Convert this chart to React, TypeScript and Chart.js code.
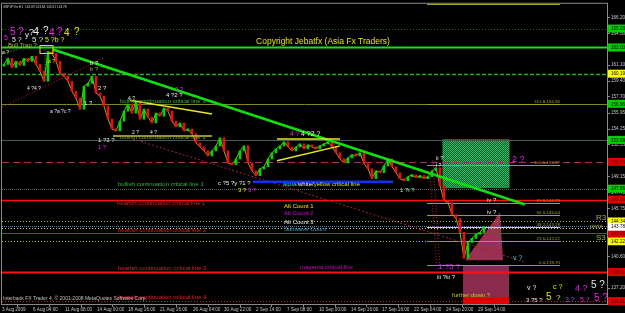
import React, { useEffect, useRef } from "react";
import { Chart, registerables } from "chart.js";
Chart.register(...registerables);

const FONT = '"Liberation Sans", Arial, sans-serif';

// ---- price data (H1 closes, resampled) ----
const firstOpen = 161.0;
const closes = [
  161.19, 161.83, 160.87, 161.51, 161.08, 161.83, 161.51, 162.04, 161.19, 160.44,
  159.38, 162.57, 162.36, 161.51, 160.23, 159.91, 159.38, 158.31, 157.56, 156.39,
  158.84, 159.16, 159.91, 158.1, 157.78, 156.71, 155.32, 154.26, 154.05, 155.11,
  156.18, 156.92, 155.96, 157.24, 155.32, 156.39, 155.54, 154.9, 155.96, 155.64,
  156.5, 156.18, 155.11, 154.47, 154.9, 154.05, 154.26, 153.73, 152.77, 152.34,
  151.91, 151.38, 151.91, 152.45, 153.3, 151.91, 150.63, 150.42, 151.06, 151.91,
  152.45, 150.63, 149.78, 149.25, 149.99, 150.21, 151.06, 151.7, 152.13, 152.45,
  152.87, 152.34, 151.91, 152.34, 152.66, 152.13, 152.55, 152.34, 152.13, 152.45,
  152.66, 152.87, 152.34, 151.7, 151.06, 150.63, 151.17, 151.49, 151.38, 151.7,
  150.53, 149.99, 148.93, 149.78, 149.57, 150.31, 151.06, 150.21, 149.57, 148.93,
  148.71, 149.14, 149.35, 149.03, 149.25, 148.93, 149.14, 149.78, 150.1, 148.18,
  146.58, 146.37, 145.09, 144.66, 143.17, 140.4, 142.1, 142.53, 142.96, 143.17,
  143.78,
];

// ---- axes ----
const xTickIdx = [-0.5, 7.25, 15.25, 23.25, 31, 39, 47.25, 55, 63, 70.75, 78.75, 86.75, 94.5, 102.5, 110.5, 118.5];
const xTickLabels = [
  "3 Aug 2009", "6 Aug 04:00", "11 Aug 08:00", "14 Aug 00:00", "18 Aug 16:00", "21 Aug 16:00",
  "26 Aug 04:00", "30 Aug 22:00", "2 Sep 14:00", "7 Sep 08:00", "10 Sep 00:00", "14 Sep 16:00",
  "17 Sep 16:00", "22 Sep 04:00", "24 Sep 20:00", "29 Sep 14:00",
];
const yTickValues = [166.2, 164.5, 162.8, 161.1, 159.4, 157.7, 155.95, 154.25, 152.55, 150.85, 149.15, 147.45, 145.75, 144.05, 142.35, 140.6, 138.9, 137.2];

// ---- fibonacci levels ----
const fibPct = ["261.8", "161.8", "100.0", "61.8", "50.0", "38.2", "23.6", "0.0"];
const fibLevels = [167.63, 156.96, 150.37, 146.29, 145.04, 143.78, 142.22, 139.7];
const fibRange = [105.75, 139];

// ---- horizontal levels ----
const levelValues = [165.03, 163.0, 160.19, 156.96, 153.09, 150.74, 147.86, 146.69, 144.34, 143.81, 143.68, 143.06, 142.21, 138.91, 135.81];
const levelStyles = [
  { c: "#1f6a1f", d: [1, 2], w: 1 },
  { c: "#18e018", d: [], w: 2 },
  { c: "#28b028", d: [4, 2], w: 1.5 },
  { c: "#7a8a20", d: [], w: 1 },
  { c: "#3e5e5e", d: [], w: 1.2 },
  { c: "#a8305a", d: [7, 4], w: 1 },
  { c: "#4f6f4f", d: [1, 1], w: 1 },
  { c: "#ff1010", d: [], w: 1.5 },
  { c: "#b8b820", d: [1, 2], w: 1 },
  { c: "#4a7ea8", d: [1, 1], w: 1 },
  { c: "#c8c890", d: [1, 2], w: 1 },
  { c: "#c02040", d: [], w: 1 },
  { c: "#b0b020", d: [1, 2], w: 1 },
  { c: "#ff1010", d: [], w: 2 },
  { c: "#d02020", d: [1, 2], w: 1 },
];

// ---- price boxes on the axis ----
const boxValues = [165.03, 163.0, 160.19, 156.96, 153.09, 150.74, 147.86, 146.69, 144.34, 142.22, 143.06, 143.78, 138.91, 135.81];
const boxColors = ["#00d000", "#00d000", "#ffff00", "#00d000", "#00d000", "#e00000", "#00d000", "#e00000", "#ffff00", "#ffff00", "#e00000", "#ffffff", "#e00000", "#e00000"];

// ---- trend lines: [i1, v1, i2, v2] ----
const trendLines = [
  [12.25, 162.79, 130.25, 146.16],
  [-0.5, 156.6, 24.75, 161.83],
  [32.25, 153.19, 130.25, 139.97],
  [31.5, 157.35, 52, 155.86],
  [27.25, 153.51, 52, 153.51],
  [68.25, 153.19, 84, 153.19],
  [68.25, 150.85, 84, 152.45],
  [62.25, 148.61, 97.25, 148.61],
  [-0.5, 162.3, 4, 162.89],
  [10.25, 162.79, 10.25, 159.38],
  [107.25, 150.9, 109, 139.4],
  [106.5, 149.6, 108.25, 139.3],
];
const trendStyles = [
  { c: "#10e010", d: [], w: 2.5 },
  { c: "#c02040", d: [1, 2], w: 1 },
  { c: "#a82040", d: [2, 2], w: 1 },
  { c: "#e8e820", d: [], w: 1.5 },
  { c: "#c8c820", d: [], w: 1.5 },
  { c: "#e8e820", d: [], w: 1.5 },
  { c: "#e8e820", d: [], w: 1.5 },
  { c: "#1030ff", d: [], w: 2.5 },
  { c: "#30c030", d: [1, 2], w: 1 },
  { c: "#30c030", d: [1, 2], w: 1 },
  { c: "#c02040", d: [1, 2], w: 1 },
  { c: "#c02040", d: [1, 2], w: 1 },
];

// ---- zones: [i1, v1, i2, v2] ----
const zoneGreen = [109.75, 153.09, 126.25, 147.97];
const zonePink = [114.75, 139.65, 126.25, 136.24];
const zoneRed = [114.75, 136.24, 126.25, 135.3];
const trapBox = [9, 163.21, 12.25, 162.36];
const triangle = [[115.25, 140.18], [124, 145.3], [124.75, 140.18]];

// ---- text annotations: [text, idx, price, colour, size, align] ----
const W = "#e8e8e8", M = "#f020f0", Y = "#e6e600", O = "#b0b040", G = "#3cb043", R = "#e02020";
const notes: [string, number, number, string, number, string?][] = [
  ["GBPJPYm,H1  143.69 143.84 143.61 143.78", -0.25, 167.37, "#d0d0d0", 3.2],
  ["Copyright Jebatfx (Asia Fx Traders)", 79.75, 163.64, "#e6e600", 8.5, "center"],
  ["5", 0, 163.96, M, 7], ["5", 1.5, 164.6, M, 10], ["?", 3.5, 164.6, M, 10],
  ["y", 5.25, 164.39, W, 8], ["?", 6.25, 164.6, W, 9], ["4", 7.25, 164.71, W, 11], ["?", 9.75, 164.71, W, 10],
  ["4", 11.25, 164.49, M, 10], ["?", 13.25, 164.6, M, 10], ["4", 15, 164.49, Y, 10], ["?", 17.5, 164.6, Y, 10],
  ["5 ?", 2, 163.85, W, 7], ["5 ?", 7, 163.85, W, 8], ["5 ?b ?", 10.25, 163.75, Y, 7],
  ["Bull Trap ?", 1, 163.21, O, 6], ["a ?", -0.5, 162.47, W, 5],
  ["a ?", 11, 161.51, Y, 5], ["b ?", 21.5, 161.3, W, 6], ["b ?", 21.5, 160.66, O, 6],
  ["4 ?4 ?", 5.75, 158.63, W, 5], ["2 ?", 23.5, 158.63, W, 6], ["1 ?", 20, 157.03, W, 6],
  ["a ?a ?c ?", 11.5, 156.07, W, 5], ["4 ?", 31, 157.56, W, 5], ["4 ?2 ?", 40.5, 157.88, W, 6],
  ["2 ?", 42.75, 158.52, M, 6], ["2 ?", 32, 153.83, W, 5], ["4 ?", 36.5, 153.83, W, 5],
  ["1 ?3 ?", 23.5, 153.09, W, 6], ["1 ?", 23.5, 152.34, M, 6],
  ["4 ?", 71.5, 153.73, M, 7], ["4 ?2 ?", 74.25, 153.73, W, 7],
  ["c ?5 ?y ?1 ?", 53.5, 148.39, W, 6], ["3 ?", 58.5, 147.65, Y, 6], ["3 ?", 61, 147.65, M, 6],
  ["1 ?i ?", 99, 147.65, "#a0e0c0", 6], ["ii ?", 108, 151.06, W, 6], ["i ?", 108, 150.31, W, 5],
  ["2 ?", 127, 150.95, M, 9], ["iv ?", 120.75, 146.58, W, 6], ["iv ?", 120.75, 145.3, W, 6],
  ["v ?", 127.25, 140.4, "#40c8c8", 7], ["1 ?5 ?", 108.5, 139.44, M, 8], ["iii ?iii ?", 108.25, 138.37, W, 6],
  ["further down ?", 112, 136.45, "#c8c820", 6],
  ["v ?", 130.75, 137.2, W, 7], ["c ?", 137.25, 137.31, Y, 7], ["4 ?", 142.75, 137.2, M, 9], ["5 ?", 146.75, 137.52, W, 10],
  ["3 ?5 ?", 130.5, 135.92, W, 6], ["5", 135.5, 136.24, Y, 10], ["?", 138, 136.2, Y, 8],
  ["3 ?", 140.25, 135.92, M, 7], ["5 ?", 144, 135.92, M, 7], ["5 ?", 147.5, 136.1, M, 10],
  ["bullish continuation critical line 3", 29, 157.24, G, 6],
  ["bullish continuation critical line 2", 29, 153.41, "#8a9a30", 6],
  ["bullish continuation critical line 1", 28.5, 148.29, G, 6],
  ["bearish continuation critical line 1", 28.25, 146.26, R, 6],
  ["bearish continuation critical line 2", 28.5, 143.39, R, 6],
  ["bearish continuation critical line 3", 28.5, 139.33, R, 6],
  ["bearish continuation critical line 4", 28.5, 136.24, R, 6],
  ["magenta critical line", 74, 139.44, "#d000d0", 6],
  ["Alt Count 1", 70, 145.94, Y, 6], ["Alt Count 2", 70, 145.2, "#e000e0", 6],
  ["Alt Count 3", 70, 144.24, W, 6], ["Subwave Count", 70, 143.49, "#4090c0", 6],
  ["R3", 148, 144.77, O, 8], ["pivot", 146.5, 143.78, O, 6], ["S3", 148, 142.64, O, 8],
  ["Interbank FX Trader 4, \u00a9 2001-2008 MetaQuotes Software Corp.", -0.25, 136.03, "#c0c0c0", 5],
];
const multiNote = { idx: 69.75, price: 148.29, parts: [["aqua/", "#40d0d0"], ["white/", "#ffffff"], ["yellow critical line", "#e0e000"]] };

function line(ctx: CanvasRenderingContext2D, x1: number, y1: number, x2: number, y2: number, s: { c: string; d: number[]; w: number }) {
  ctx.save();
  ctx.strokeStyle = s.c;
  ctx.lineWidth = s.w;
  ctx.setLineDash(s.d);
  ctx.beginPath();
  ctx.moveTo(x1, y1);
  ctx.lineTo(x2, y2);
  ctx.stroke();
  ctx.restore();
}

const overlay = {
  id: "overlay",
  beforeDraw(chart: any) {
    const ctx = chart.ctx;
    ctx.save();
    ctx.fillStyle = "#000";
    ctx.fillRect(0, 0, chart.width, chart.height);
    ctx.restore();
  },
  beforeDatasetsDraw(chart: any) {
    const { ctx, chartArea: a, scales } = chart;
    const X = (v: number) => scales.x.getPixelForValue(v);
    const Yp = (v: number) => scales.y.getPixelForValue(v);
    ctx.save();
    ctx.beginPath();
    ctx.rect(a.left, a.top, a.right - a.left, a.bottom - a.top);
    ctx.clip();
    // green hatched zone
    const pc = document.createElement("canvas");
    pc.width = 2; pc.height = 2;
    const p = pc.getContext("2d")!;
    p.fillStyle = "#0d5a2c"; p.fillRect(0, 0, 2, 2);
    p.fillStyle = "#2fbf5f"; p.fillRect(0, 0, 1, 1); p.fillRect(1, 1, 1, 1);
    ctx.fillStyle = ctx.createPattern(pc, "repeat");
    const gx = X(zoneGreen[0]), gy = Yp(zoneGreen[1]), gx2 = X(zoneGreen[2]), gy2 = Yp(zoneGreen[3]);
    ctx.fillRect(gx, gy, gx2 - gx, gy2 - gy);
    ctx.strokeStyle = "#20a040"; ctx.lineWidth = 1; ctx.strokeRect(gx, gy, gx2 - gx, gy2 - gy);
    // pink + red zones
    ctx.fillStyle = "#8a2a4c";
    ctx.fillRect(X(zonePink[0]), Yp(zonePink[1]), X(zonePink[2]) - X(zonePink[0]), Yp(zonePink[3]) - Yp(zonePink[1]));
    ctx.fillStyle = "#e00000";
    ctx.fillRect(X(zoneRed[0]), Yp(zoneRed[1]), X(zoneRed[2]) - X(zoneRed[0]), Yp(zoneRed[3]) - Yp(zoneRed[1]));
    // triangle
    ctx.fillStyle = "#9a3052";
    ctx.beginPath();
    triangle.forEach(([i, v], k) => (k ? ctx.lineTo(X(i), Yp(v)) : ctx.moveTo(X(i), Yp(v))));
    ctx.closePath();
    ctx.fill();
    // horizontal levels
    levelValues.forEach((v, k) => {
      const y = Math.round(Yp(v)) + 0.5;
      line(ctx, a.left, y, a.right, y, levelStyles[k]);
    });
    // fibonacci
    ctx.font = `4.4px ${FONT}`;
    ctx.textAlign = "right";
    ctx.textBaseline = "bottom";
    fibLevels.forEach((v, k) => {
      const y = Math.round(Yp(v)) + 0.5;
      const col = fibPct[k] === "38.2" ? "#d8d860" : "#a0a028";
      line(ctx, X(fibRange[0]), y, X(fibRange[1]), y, { c: col, d: [], w: 1 });
      ctx.fillStyle = "#a0a028";
      ctx.fillText(`${fibPct[k]}-${v.toFixed(2)}`, X(fibRange[1]), y - 1);
    });
    ctx.restore();
  },
  afterDatasetsDraw(chart: any) {
    const { ctx, chartArea: a, scales } = chart;
    const X = (v: number) => scales.x.getPixelForValue(v);
    const Yp = (v: number) => scales.y.getPixelForValue(v);
    ctx.save();
    ctx.beginPath();
    ctx.rect(a.left, a.top, a.right - a.left, a.bottom - a.top);
    ctx.clip();
    trendLines.forEach((t, k) => line(ctx, X(t[0]), Yp(t[1]), X(t[2]), Yp(t[3]), trendStyles[k]));
    ctx.strokeStyle = "#e6e600";
    ctx.lineWidth = 1;
    ctx.strokeRect(X(trapBox[0]), Yp(trapBox[1]), X(trapBox[2]) - X(trapBox[0]), Yp(trapBox[3]) - Yp(trapBox[1]));
    ctx.textBaseline = "middle";
    notes.forEach(([t, i, v, c, s, al]) => {
      ctx.font = `${s}px ${FONT}`;
      ctx.fillStyle = c;
      ctx.textAlign = (al as CanvasTextAlign) || "left";
      ctx.fillText(t, X(i), Yp(v));
    });
    ctx.font = `6px ${FONT}`;
    ctx.textAlign = "left";
    let mx = X(multiNote.idx);
    multiNote.parts.forEach(([t, c]) => {
      ctx.fillStyle = c;
      ctx.fillText(t, mx, Yp(multiNote.price));
      mx += ctx.measureText(t).width;
    });
    ctx.restore();
    // frame
    ctx.save();
    ctx.strokeStyle = "#8a8a8a";
    ctx.lineWidth = 1;
    ctx.strokeRect(a.left - 0.5, a.top - 0.5, a.right - a.left + 1, a.bottom - a.top + 1);
    ctx.restore();
  },
  afterDraw(chart: any) {
    const { ctx, chartArea: a, scales } = chart;
    ctx.save();
    ctx.font = `4.6px ${FONT}`;
    ctx.textBaseline = "middle";
    ctx.textAlign = "left";
    boxValues.forEach((v, k) => {
      const y = scales.y.getPixelForValue(v);
      ctx.fillStyle = boxColors[k];
      ctx.fillRect(a.right + 1, y - 4, chart.width - a.right - 1, 8);
      ctx.fillStyle = boxColors[k] === "#e00000" ? "#500000" : "#000";
      ctx.fillText(v.toFixed(2), a.right + 4, y + 0.5);
    });
    ctx.restore();
  },
};

export default function App() {
  const ref = useRef<HTMLCanvasElement>(null);
  useEffect(() => {
    document.body.style.margin = "0";
    document.body.style.background = "#000";
    const opens = closes.map((c, i) => (i === 0 ? firstOpen : closes[i - 1]));
    const chart = new Chart(ref.current!, {
      type: "bar",
      data: {
        datasets: [
          {
            type: "line",
            data: closes.map((c, i) => ({ x: i, y: c })),
            borderColor: "#98b030",
            borderWidth: 1,
            pointRadius: 0,
            order: 2,
          } as any,
          {
            type: "bar",
            data: closes.map((c, i) => ({ x: i, y: [opens[i], c] })),
            backgroundColor: closes.map((c, i) => (c >= opens[i] ? "#00d800" : "#e81010")),
            barThickness: 2,
            minBarLength: 2,
            order: 1,
          } as any,
        ],
      },
      options: {
        responsive: false,
        devicePixelRatio: 1,
        animation: false,
        layout: { padding: { left: 2, top: 2, right: 0, bottom: 0 } },
        plugins: { legend: { display: false }, tooltip: { enabled: false } },
        scales: {
          x: {
            type: "linear",
            min: -0.5,
            max: 150.75,
            offset: false,
            afterBuildTicks: (s: any) => { s.ticks = xTickIdx.map((v) => ({ value: v })); },
            afterFit: (s: any) => { s.height = 9; },
            border: { display: false },
            grid: { display: true, drawOnChartArea: false, drawTicks: true, tickLength: 3, color: "#8a8a8a" },
            ticks: {
              autoSkip: false,
              maxRotation: 0,
              align: "start",
              padding: 0,
              color: "#c8c8c8",
              font: { size: 4.6, family: FONT },
              callback: (_v: any, i: number) => xTickLabels[i],
            },
          },
          y: {
            position: "right",
            min: 135.49,
            max: 167.69,
            afterBuildTicks: (s: any) => { s.ticks = yTickValues.map((v) => ({ value: v })); },
            afterFit: (s: any) => { s.width = 18; },
            border: { display: false },
            grid: { display: true, drawOnChartArea: false, drawTicks: true, tickLength: 3, color: "#8a8a8a" },
            ticks: {
              autoSkip: false,
              padding: 1,
              color: "#c8c8c8",
              font: { size: 4.6, family: FONT },
              callback: (v: any) => Number(v).toFixed(2),
            },
          },
        },
      },
      plugins: [overlay],
    });
    return () => chart.destroy();
  }, []);
  return (
    <div style={{ width: 625, height: 313 }}>
      <canvas ref={ref} width={625} height={313} style={{ display: "block", width: 625, height: 313 }} />
    </div>
  );
}
